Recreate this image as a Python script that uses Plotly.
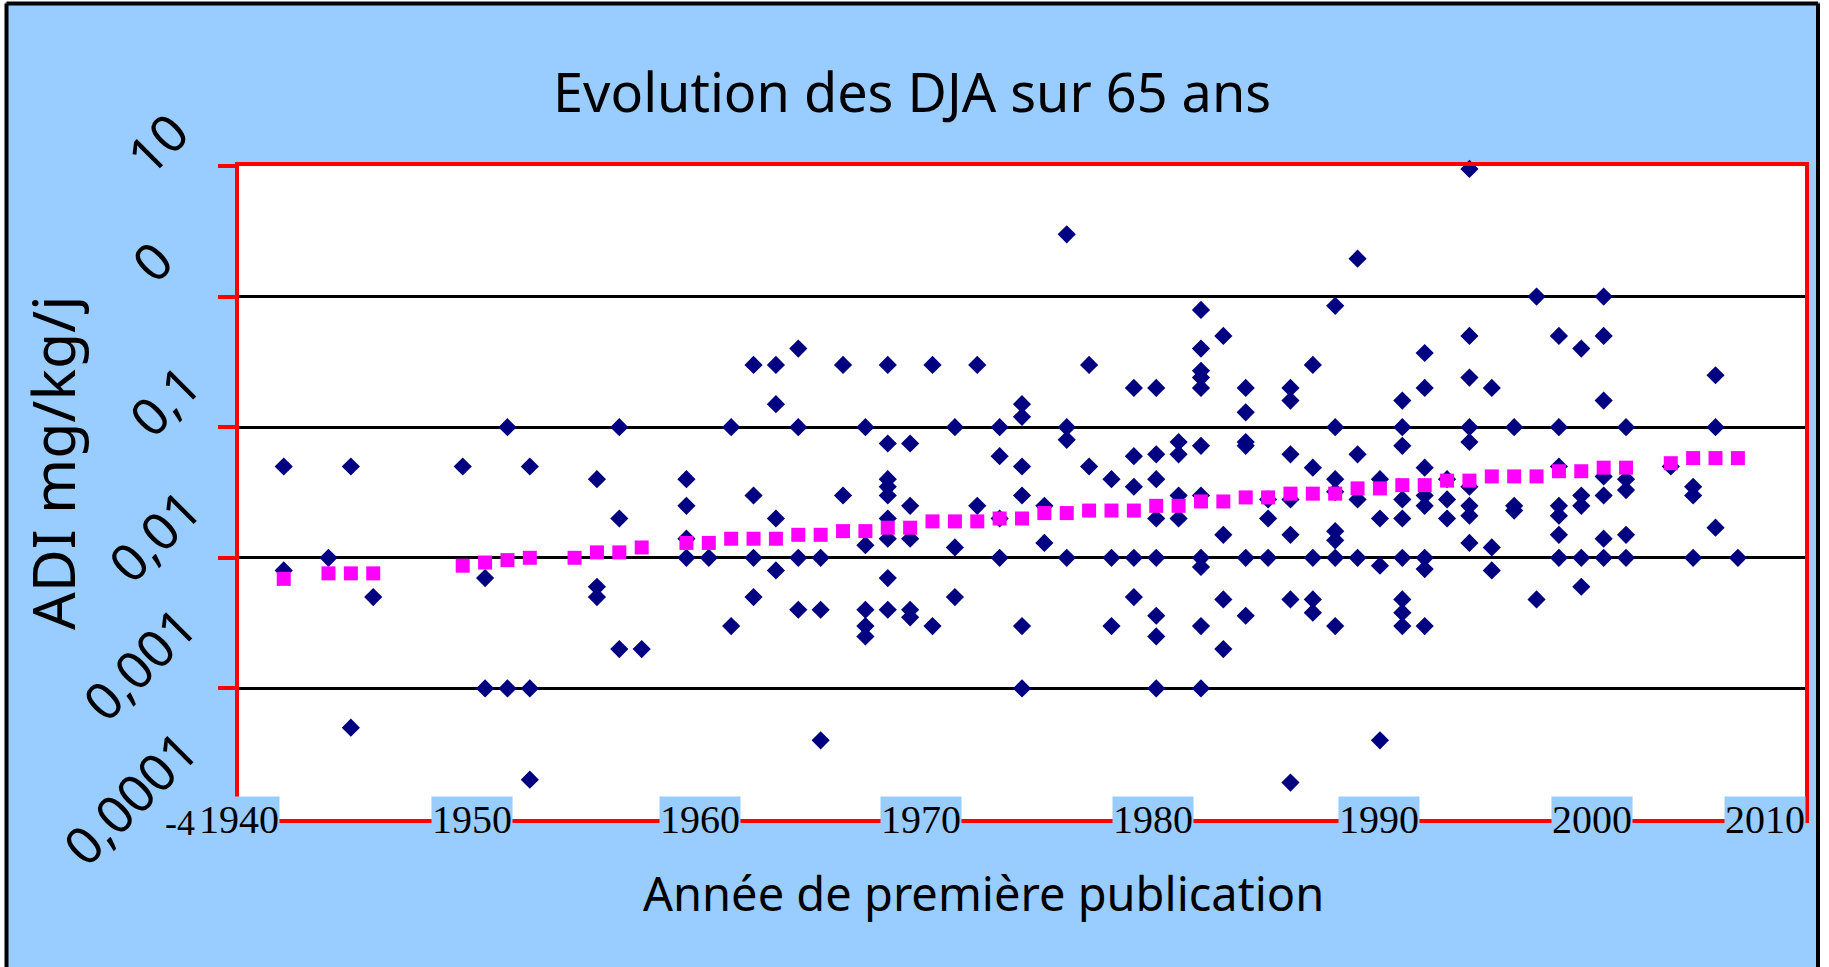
import plotly.graph_objects as go

# ---------------- data ----------------
years = [1942, 1942, 1944, 1945, 1945, 1946,
         1950, 1951, 1951, 1952, 1952, 1953, 1953, 1953,
         1956, 1956, 1956, 1957, 1957, 1957, 1958,
         1960, 1960, 1960, 1960, 1961, 1962, 1962,
         1963, 1963, 1963, 1963, 1964, 1964, 1964, 1964,
         1965, 1965, 1965, 1965, 1966, 1966, 1966, 1967, 1967,
         1968, 1968, 1968, 1968, 1968,
         1969, 1969, 1969, 1969, 1969, 1969, 1969, 1969, 1969,
         1970, 1970, 1970, 1970, 1970, 1971, 1971, 1972, 1972, 1972,
         1973, 1973, 1974, 1974, 1974, 1974,
         1975, 1975, 1975, 1975, 1975, 1975, 1976, 1976,
         1977, 1977, 1977, 1977, 1978, 1978, 1979, 1979, 1979,
         1980, 1980, 1980, 1980, 1980,
         1981, 1981, 1981, 1981, 1981, 1981, 1981, 1981,
         1982, 1982, 1982, 1982,
         1983, 1983, 1983, 1983, 1983, 1983, 1983, 1983, 1983, 1983, 1983,
         1984, 1984, 1984, 1984,
         1985, 1985, 1985, 1985, 1985, 1985, 1986, 1986, 1986,
         1987, 1987, 1987, 1987, 1987, 1987, 1987,
         1988, 1988, 1988, 1988, 1988,
         1989, 1989, 1989, 1989, 1989, 1989, 1989, 1989,
         1990, 1990, 1990, 1990, 1991, 1991, 1991, 1991,
         1992, 1992, 1992, 1992, 1992, 1992, 1992, 1992, 1992,
         1993, 1993, 1993, 1993, 1993, 1993, 1993, 1993,
         1994, 1994, 1994,
         1995, 1995, 1995, 1995, 1995, 1995, 1995, 1995, 1995,
         1996, 1996, 1996, 1997, 1997, 1997, 1998, 1998,
         1999, 1999, 1999, 1999, 1999, 1999, 1999,
         2000, 2000, 2000, 2000, 2000,
         2001, 2001, 2001, 2001, 2001, 2001, 2001,
         2002, 2002, 2002, 2002, 2002,
         2004, 2005, 2005, 2005, 2006, 2006, 2006, 2007]
adi = [0.05, 0.008, 0.01, 0.05, 0.0005, 0.005,
       0.05, 0.007, 0.001, 0.1, 0.001, 0.05, 0.001, 0.0002,
       0.04, 0.006, 0.005, 0.1, 0.02, 0.002, 0.002,
       0.04, 0.025, 0.014, 0.01, 0.01, 0.1, 0.003,
       0.3, 0.03, 0.01, 0.005, 0.3, 0.15, 0.02, 0.008,
       0.4, 0.1, 0.01, 0.004, 0.01, 0.004, 0.0004, 0.3, 0.03,
       0.1, 0.0125, 0.004, 0.003, 0.0025,
       0.3, 0.075, 0.04, 0.035, 0.03, 0.02, 0.014, 0.007, 0.004,
       0.075, 0.025, 0.014, 0.004, 0.0035, 0.3, 0.003, 0.1, 0.012, 0.005,
       0.3, 0.025, 0.1, 0.06, 0.02, 0.01,
       0.15, 0.12, 0.05, 0.03, 0.003, 0.001, 0.025, 0.013,
       3.0, 0.1, 0.08, 0.01, 0.3, 0.05, 0.04, 0.01, 0.003,
       0.2, 0.06, 0.035, 0.01, 0.005,
       0.2, 0.062, 0.04, 0.02, 0.01, 0.0036, 0.0025, 0.001,
       0.077, 0.062, 0.03, 0.02,
       0.79, 0.4, 0.27, 0.24, 0.2, 0.072, 0.03, 0.01, 0.0085, 0.003, 0.001,
       0.5, 0.015, 0.0048, 0.002,
       0.2, 0.13, 0.077, 0.072, 0.01, 0.0036, 0.028, 0.02, 0.01,
       0.2, 0.16, 0.062, 0.028, 0.015, 0.0048, 0.00019,
       0.3, 0.049, 0.01, 0.0048, 0.0038,
       0.85, 0.1, 0.04, 0.032, 0.016, 0.0136, 0.01, 0.003,
       1.95, 0.062, 0.028, 0.01, 0.04, 0.02, 0.0087, 0.0004,
       0.16, 0.1, 0.072, 0.028, 0.02, 0.01, 0.0048, 0.0038, 0.003,
       0.37, 0.2, 0.049, 0.03, 0.025, 0.01, 0.0082, 0.003,
       0.04, 0.028, 0.02,
       9.5, 0.5, 0.24, 0.1, 0.077, 0.035, 0.025, 0.021, 0.013,
       0.2, 0.012, 0.008, 0.1, 0.025, 0.023, 1.0, 0.0048,
       0.5, 0.1, 0.05, 0.025, 0.021, 0.015, 0.01,
       0.4, 0.03, 0.025, 0.01, 0.006,
       1.0, 0.5, 0.16, 0.042, 0.03, 0.014, 0.01,
       0.1, 0.04, 0.033, 0.015, 0.01,
       0.05, 0.035, 0.03, 0.01, 0.25, 0.1, 0.017, 0.01]

trend_years = [1942, 1944, 1945, 1946, 1950, 1951, 1952, 1953, 1955, 1956,
               1957, 1958, 1960, 1961, 1962, 1963, 1964, 1965, 1966, 1967,
               1968, 1969, 1970, 1971, 1972, 1973, 1974, 1975, 1976, 1977,
               1978, 1979, 1980, 1981, 1982, 1983, 1984, 1985, 1986, 1987,
               1988, 1989, 1990, 1991, 1992, 1993, 1994, 1995, 1996, 1997,
               1998, 1999, 2000, 2001, 2002, 2004, 2005, 2006, 2007]
trend_adi = [0.0069, 0.0076, 0.0076, 0.0076, 0.0087, 0.0092, 0.0096, 0.010, 0.010, 0.011,
             0.011, 0.012, 0.013, 0.013, 0.014, 0.014, 0.014, 0.015, 0.015, 0.016,
             0.016, 0.017, 0.017, 0.019, 0.019, 0.019, 0.020, 0.020, 0.022, 0.022,
             0.023, 0.023, 0.023, 0.025, 0.025, 0.027, 0.027, 0.029, 0.029, 0.031,
             0.031, 0.031, 0.034, 0.034, 0.036, 0.036, 0.039, 0.039, 0.042, 0.042,
             0.042, 0.046, 0.046, 0.049, 0.049, 0.053, 0.058, 0.058, 0.058]

x_ticks = [1940, 1950, 1960, 1970, 1980, 1990, 2000, 2010]
x_tick_text = ["1940", "1950", "1960", "1970", "1980", "1990", "2000", "2010"]
y_ticks = [0.0001, 0.001, 0.01, 0.1, 1, 10]
y_tick_text = ["0,0001", "0,001", "0,01", "0,1", "0", "10"]

title = "Evolution des DJA sur 65 ans"
x_title = "Année de première publication"
y_title = "ADI mg/kg/j"

# ---------------- layout helpers ----------------
W, H = 1829, 967
L, R, T, B = 239, 1805, 166, 819   # plot area in pixels


def px(x):
    return (x - L) / (R - L)


def py(y):
    return (B - y) / (B - T)


BLUE_BG = "#99CCFF"
FONT_SANS = "Noto Sans"

fig = go.Figure()
fig.add_trace(go.Scatter(
    x=years, y=adi, mode="markers",
    marker=dict(symbol="diamond", size=14, color="#000080", line=dict(width=0)),
    showlegend=False, cliponaxis=False))
fig.add_trace(go.Scatter(
    x=trend_years, y=trend_adi, mode="markers",
    marker=dict(symbol="square", size=14, color="#FF00FF", line=dict(width=0)),
    showlegend=False, cliponaxis=False))

annotations = []
# title
annotations.append(dict(text=title, x=px(912), y=py(91), xref="paper", yref="paper",
                        showarrow=False, xanchor="center", yanchor="middle",
                        font=dict(family=FONT_SANS, size=54, color="black")))
# x title
annotations.append(dict(text=x_title, x=px(983), y=py(893), xref="paper", yref="paper",
                        showarrow=False, xanchor="center", yanchor="middle",
                        font=dict(family=FONT_SANS, size=47, color="black")))
# y title
annotations.append(dict(text=y_title, x=px(52), y=py(463), xref="paper", yref="paper",
                        showarrow=False, xanchor="center", yanchor="middle", textangle=-90,
                        font=dict(family=FONT_SANS, size=59, color="black")))

# x tick labels (overlaid text boxes sitting on the axis line)
x_label_shift = [0, 9, 14, 11, 19, 21, 11, -40]
for xv, txt, sh in zip(x_ticks, x_tick_text, x_label_shift):
    annotations.append(dict(text=txt, x=xv, y=0, xref="x", yref="paper", xshift=sh,
                            showarrow=False, xanchor="center", yanchor="middle",
                            bgcolor=BLUE_BG, borderpad=0,
                            font=dict(family="Liberation Serif", size=40, color="black")))

# y tick labels (rotated overlay text)
y_label_pos = [(129, 797), (138, 663), (153, 535), (163, 400), (151, 260), (157, 143)]
for (cx, cy), txt in zip(y_label_pos, y_tick_text):
    annotations.append(dict(text=txt, x=px(cx), y=py(cy), xref="paper", yref="paper",
                            showarrow=False, xanchor="center", yanchor="middle", textangle=-45,
                            font=dict(family=FONT_SANS, size=52, color="black")))
# leftover piece of original label
annotations.append(dict(text="-4", x=px(197), y=py(823), xref="paper", yref="paper",
                        showarrow=False, xanchor="right", yanchor="middle",
                        font=dict(family="Liberation Serif", size=36, color="black")))

shapes = [
    # white strips outside the black frame
    dict(type="rect", xref="paper", yref="paper", x0=px(0), x1=px(5), y0=py(0), y1=py(H),
         fillcolor="white", line=dict(width=0), layer="above"),
    dict(type="rect", xref="paper", yref="paper", x0=px(0), x1=px(W), y0=py(0), y1=py(2),
         fillcolor="white", line=dict(width=0), layer="above"),
    dict(type="rect", xref="paper", yref="paper", x0=px(1820), x1=px(W), y0=py(0), y1=py(H),
         fillcolor="white", line=dict(width=0), layer="above"),
    # black frame
    dict(type="line", xref="paper", yref="paper", x0=px(6.5), x1=px(6.5), y0=py(3.5), y1=py(H + 5),
         line=dict(color="black", width=4), layer="above"),
    dict(type="line", xref="paper", yref="paper", x0=px(6.5), x1=px(1818), y0=py(3.5), y1=py(3.5),
         line=dict(color="black", width=4), layer="above"),
    dict(type="line", xref="paper", yref="paper", x0=px(1818), x1=px(1818), y0=py(3.5), y1=py(H + 5),
         line=dict(color="black", width=4), layer="above"),
]

fig.update_layout(
    width=W, height=H,
    margin=dict(l=L, r=W - R, t=T, b=H - B, pad=0),
    paper_bgcolor=BLUE_BG, plot_bgcolor="white",
    showlegend=False,
    annotations=annotations,
    shapes=shapes,
    xaxis=dict(range=[1940, 2010], showgrid=False, zeroline=False,
               showticklabels=False, ticks="",
               showline=True, linecolor="red", linewidth=4, mirror=True),
    yaxis=dict(type="log", range=[-4, 1], tickmode="array", tickvals=y_ticks,
               showticklabels=False, ticks="outside", ticklen=17, tickwidth=4, tickcolor="red",
               showgrid=True, gridcolor="black", gridwidth=3, zeroline=False,
               showline=True, linecolor="red", linewidth=4, mirror=True),
)

fig.write_html("out.html", config={"displayModeBar": False},
               post_script="document.body.style.margin='0';document.body.style.overflow='hidden';")
